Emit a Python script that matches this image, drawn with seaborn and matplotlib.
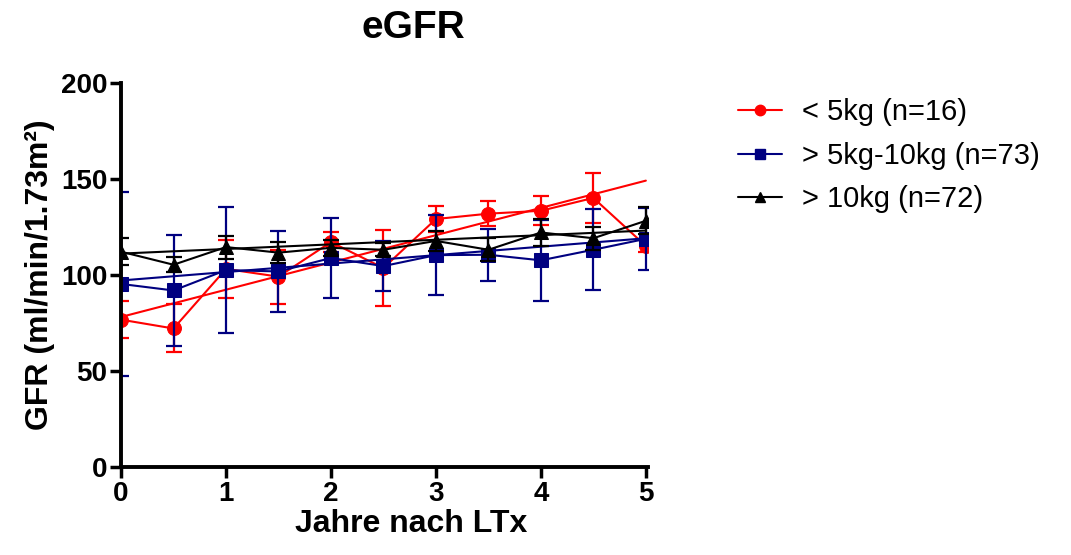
import matplotlib
matplotlib.use("Agg")
import matplotlib.pyplot as plt
import seaborn as sns
import pandas as pd
import numpy as np
from matplotlib.lines import Line2D

# ---- data ----
years = [0, 0.5, 1, 1.5, 2, 2.5, 3, 3.5, 4, 4.5, 5]
groups = ["< 5kg (n=16)", "> 5kg-10kg (n=73)", "> 10kg (n=72)"]

red_mean = [76.6, 72.0, 103.0, 99.0, 117.0, 103.5, 129.0, 131.8, 133.3, 140.0, 115.0]
red_err = [9.5, 12.5, 15.0, 14.0, 5.0, 20.0, 7.0, 6.4, 7.5, 13.0, 3.0]

blue_mean = [95.2, 91.8, 102.4, 101.7, 108.7, 104.5, 110.2, 110.4, 107.5, 113.0, 118.7]
blue_err = [48.0, 29.0, 33.0, 21.0, 20.6, 13.0, 21.0, 13.5, 21.0, 21.0, 16.0]

black_mean = [112.0, 105.2, 114.4, 111.5, 114.0, 113.0, 117.6, 113.0, 122.0, 119.0, 128.1]
black_err = [7.0, 4.0, 6.0, 5.6, 4.0, 3.5, 5.0, 6.0, 7.0, 6.0, 7.0]

# linear-fit lines of each group (intercept at year 0, slope per year)
fit_intercept = [78.0, 97.0, 111.0]
fit_slope = [14.2, 4.4, 2.4]

title = "eGFR"
xlabel = "Jahre nach LTx"
ylabel = "GFR (ml/min/1.73m²)"
xticks = [0, 1, 2, 3, 4, 5]
yticks = [0, 50, 100, 150, 200]

# ---- style ----
sns.set_style("ticks")
plt.rcParams["font.family"] = ["Liberation Sans", "DejaVu Sans"]
plt.rcParams["text.color"] = "black"
plt.rcParams["axes.labelcolor"] = "black"
plt.rcParams["xtick.color"] = "black"
plt.rcParams["ytick.color"] = "black"

colors = ["#ff0000", "#000080", "#000000"]
markers = ["o", "s", "^"]

fig = plt.figure(figsize=(10.71, 5.55), dpi=100)
ax = fig.add_axes([0.113, 0.159, 0.492, 0.692])

means = [red_mean, blue_mean, black_mean]
errs = [red_err, blue_err, black_err]

for i, g in enumerate(groups):
    df = pd.DataFrame({"year": years, "gfr": means[i]})
    ax.errorbar(years, means[i], yerr=errs[i], fmt="none", ecolor=colors[i],
                elinewidth=1.6, capsize=6, capthick=1.6, zorder=2 + i)
    sns.lineplot(data=df, x="year", y="gfr", ax=ax, color=colors[i], marker=markers[i],
                 markersize=10 if markers[i] != "^" else 9.5, markeredgecolor=colors[i],
                 linewidth=1.5, zorder=2 + i, legend=False)
    fx = [years[0], years[-1]]
    fdf = pd.DataFrame({"year": fx, "gfr": [fit_intercept[i] + fit_slope[i] * x for x in fx]})
    sns.lineplot(data=fdf, x="year", y="gfr", ax=ax, color=colors[i], linewidth=1.5,
                 zorder=2 + i, legend=False)

ax.set_xlim(0, 5.02)
ax.set_ylim(0, 200)
ax.set_xticks(xticks)
ax.set_yticks(yticks)
ax.set_xticklabels([str(t) for t in xticks], fontsize=20, fontweight="bold")
ax.set_yticklabels([str(t) for t in yticks], fontsize=20, fontweight="bold")
ax.tick_params(axis="both", width=2.5, length=8, direction="out", color="black", pad=2)
sns.despine(ax=ax)
for s in ["left", "bottom"]:
    ax.spines[s].set_linewidth(2.8)
    ax.spines[s].set_color("black")
ax.spines["left"].set_zorder(10)

ax.set_xlabel(xlabel, fontsize=23, fontweight="bold", labelpad=3)
ax.xaxis.set_label_coords(0.55, -0.11)
ax.set_ylabel(ylabel, fontsize=23, fontweight="bold", labelpad=4)
fig.text(0.386, 0.982, title, fontsize=28, fontweight="bold",
         ha="center", va="top")

handles = [Line2D([0], [0], color=colors[i], marker=markers[i], markersize=7.5,
                  linewidth=1.5, markeredgecolor=colors[i]) for i in range(3)]
fig.legend(handles, groups, loc="upper left", bbox_to_anchor=(0.665, 0.87),
           frameon=False, fontsize=21, handlelength=1.5, handletextpad=0.68,
           labelspacing=0.53)

fig.savefig("out.png", dpi=100)
